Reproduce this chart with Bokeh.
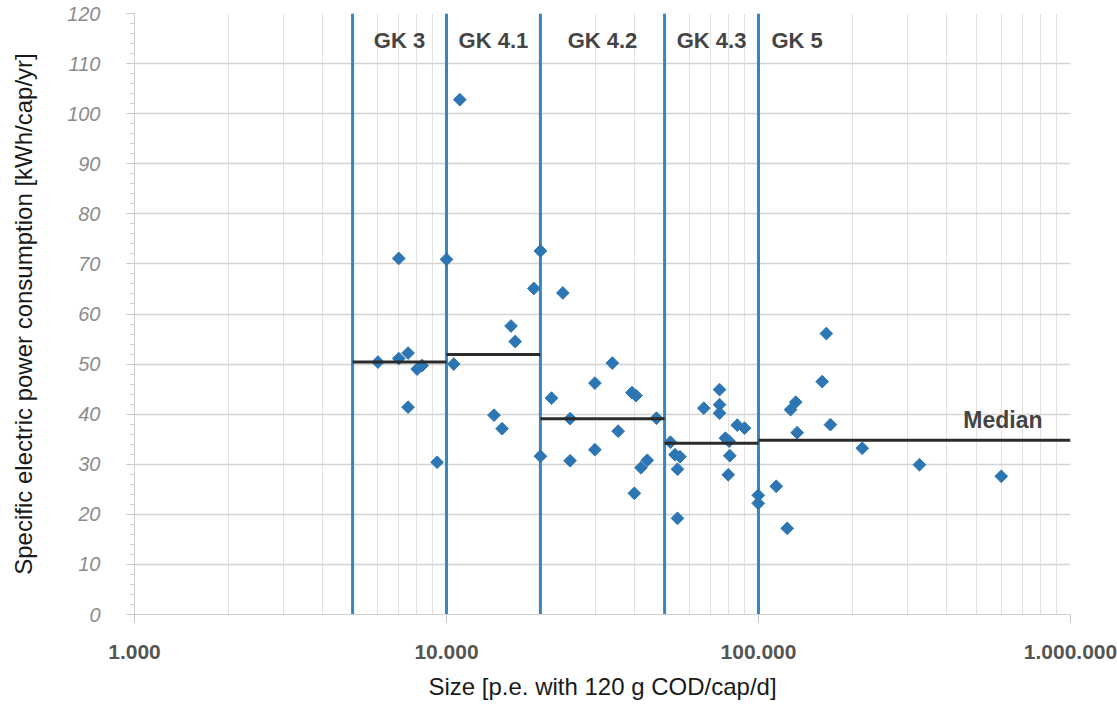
import numpy as np
from bokeh.plotting import figure
from bokeh.models import Range1d, FixedTicker
from bokeh.embed import file_html
from bokeh.resources import INLINE
from bokeh.core.properties import value

# ---- data ----
size_pe = [
    # GK 3
    6030, 7030, 7030, 7530, 8050, 8350, 7530, 9330,
    # GK 4.1
    10000, 11030, 10550, 14200, 15070, 16100, 16600, 19050, 20000,
    # GK 4.2
    20000, 21700, 23600, 24900, 24900, 29900, 29900, 34000, 35500,
    39300, 40500, 40000, 42000, 44000, 47100,
    # GK 4.3
    52200, 54000, 56000, 55000, 55000, 66800, 75000, 75000, 75000,
    85500, 90200, 78300, 80500, 80900, 80000, 99800, 99800,
    # GK 5
    114000, 123600, 126700, 131600, 133000, 160000, 165000, 170000,
    215000, 328000, 600000,
]
power_kwh = [
    50.4, 71.1, 51.1, 52.2, 49.0, 49.7, 41.4, 30.4,
    70.9, 102.8, 50.0, 39.8, 37.1, 57.6, 54.5, 65.1, 72.6,
    31.6, 43.2, 64.2, 39.1, 30.7, 46.2, 32.9, 50.2, 36.6,
    44.3, 43.7, 24.2, 29.3, 30.8, 39.2,
    34.4, 31.9, 31.5, 29.0, 19.2, 41.2, 44.9, 41.9, 40.2,
    37.8, 37.2, 35.2, 34.6, 31.7, 27.9, 23.8, 22.2,
    25.6, 17.2, 40.9, 42.4, 36.3, 46.5, 56.1, 37.9,
    33.2, 29.9, 27.6,
]
class_names = ["GK 3", "GK 4.1", "GK 4.2", "GK 4.3", "GK 5"]
class_lo = [5000, 10000, 20000, 50000, 100000]
class_hi = [10000, 20000, 50000, 100000, 1000000]
class_median = [50.4, 51.9, 39.1, 34.2, 34.8]
x_ticks = [1000, 10000, 100000, 1000000]
x_tick_labels = ["1.000", "10.000", "100.000", "1.000.000"]
y_ticks = list(range(0, 121, 10))

FONT = "Liberation Sans"
BLUE_LINE = "#3786c3"
BLUE_PT = "#2d76b3"

p = figure(width=1117, height=716, x_axis_type="log",
           x_range=Range1d(1000, 1000000), y_range=Range1d(0, 120),
           output_backend="svg", toolbar_location=None,
           min_border_left=134, min_border_right=47,
           min_border_top=13, min_border_bottom=102)
p.outline_line_color = None
p.background_fill_color = "white"
p.border_fill_color = "white"

# ---- tickers / grids ----
minor_x = [m * d for d in (1000, 10000, 100000) for m in range(2, 10)]
xt = FixedTicker(ticks=x_ticks, minor_ticks=minor_x)
yt = FixedTicker(ticks=y_ticks, minor_ticks=list(range(0, 121, 2)))
p.xaxis.ticker = xt
p.xgrid.ticker = xt
p.yaxis.ticker = yt
p.ygrid.ticker = yt

p.xgrid.grid_line_color = "#d8d8d8"
p.xgrid.grid_line_width = 1
p.xgrid.minor_grid_line_color = "#e2e2e2"
p.xgrid.minor_grid_line_width = 1
p.ygrid.grid_line_color = "#d3d3d3"
p.ygrid.grid_line_width = 1.5
p.ygrid.minor_grid_line_color = None

# x axis
xa = p.xaxis[0]
xa.major_label_overrides = {t: l for t, l in zip(x_ticks, x_tick_labels)}
xa.axis_line_color = "#d0d0d0"
xa.major_tick_line_color = "#c8c8c8"
xa.major_tick_out = 8
xa.major_tick_in = 0
xa.minor_tick_line_color = None
xa.major_label_standoff = 22
xa.major_label_text_font = FONT
xa.major_label_text_font_style = "bold"
xa.major_label_text_font_size = "21px"
xa.major_label_text_color = "#555555"
xa.axis_label = "Size [p.e. with 120 g COD/cap/d]"
xa.axis_label_text_font = FONT
xa.axis_label_text_font_style = "normal"
xa.axis_label_text_font_size = "24px"
xa.axis_label_text_color = "#1a1a1a"
xa.axis_label_standoff = 11

# y axis
ya = p.yaxis[0]
ya.axis_line_color = "#d0d0d0"
ya.major_tick_line_color = "#c8c8c8"
ya.major_tick_out = 8
ya.major_tick_in = 0
ya.minor_tick_line_color = "#c8c8c8"
ya.minor_tick_out = 4
ya.minor_tick_in = 0
ya.major_label_standoff = 26
ya.major_label_text_font = FONT
ya.major_label_text_font_style = "italic"
ya.major_label_text_font_size = "20px"
ya.major_label_text_color = "#8c8c8c"
ya.axis_label = "Specific electric power consumption [kWh/cap/yr]"
ya.axis_label_text_font = FONT
ya.axis_label_text_font_style = "normal"
ya.axis_label_text_font_size = "24px"
ya.axis_label_text_color = "#1a1a1a"
ya.axis_label_standoff = 27

# ---- class boundaries (blue verticals) ----
p.segment(x0=class_lo, y0=0, x1=class_lo, y1=120,
          line_color=BLUE_LINE, line_width=3)

# ---- data points ----
p.scatter(x=size_pe, y=power_kwh, marker="square", size=9,
          angle=np.pi / 4, fill_color=BLUE_PT, line_color=BLUE_PT)

# ---- medians ----
p.segment(x0=class_lo, y0=class_median, x1=class_hi, y1=class_median,
          line_color="#2b2b2b", line_width=3)

# ---- class labels ----
mid_x = list(np.sqrt(np.array(class_lo[:4], float) * np.array(class_hi[:4], float)))
p.text(x=mid_x, y=120, text=class_names[:4],
       text_font=value(FONT), text_font_style="bold", text_font_size="22px",
       text_color="#444444", text_align="center", text_baseline="middle",
       y_offset=27)
p.text(x=[class_lo[4]], y=120, text=[class_names[4]],
       text_font=value(FONT), text_font_style="bold", text_font_size="22px",
       text_color="#444444", text_align="left", text_baseline="middle",
       x_offset=13, y_offset=27)

# ---- "Median" label ----
p.text(x=[class_hi[-1]], y=[class_median[-1]], text=["Median"],
       text_font=value(FONT), text_font_style="bold", text_font_size="23px",
       text_color="#444444", text_align="right", text_baseline="bottom",
       x_offset=-28, y_offset=-7)

open("out.html", "w").write(file_html(p, INLINE))
